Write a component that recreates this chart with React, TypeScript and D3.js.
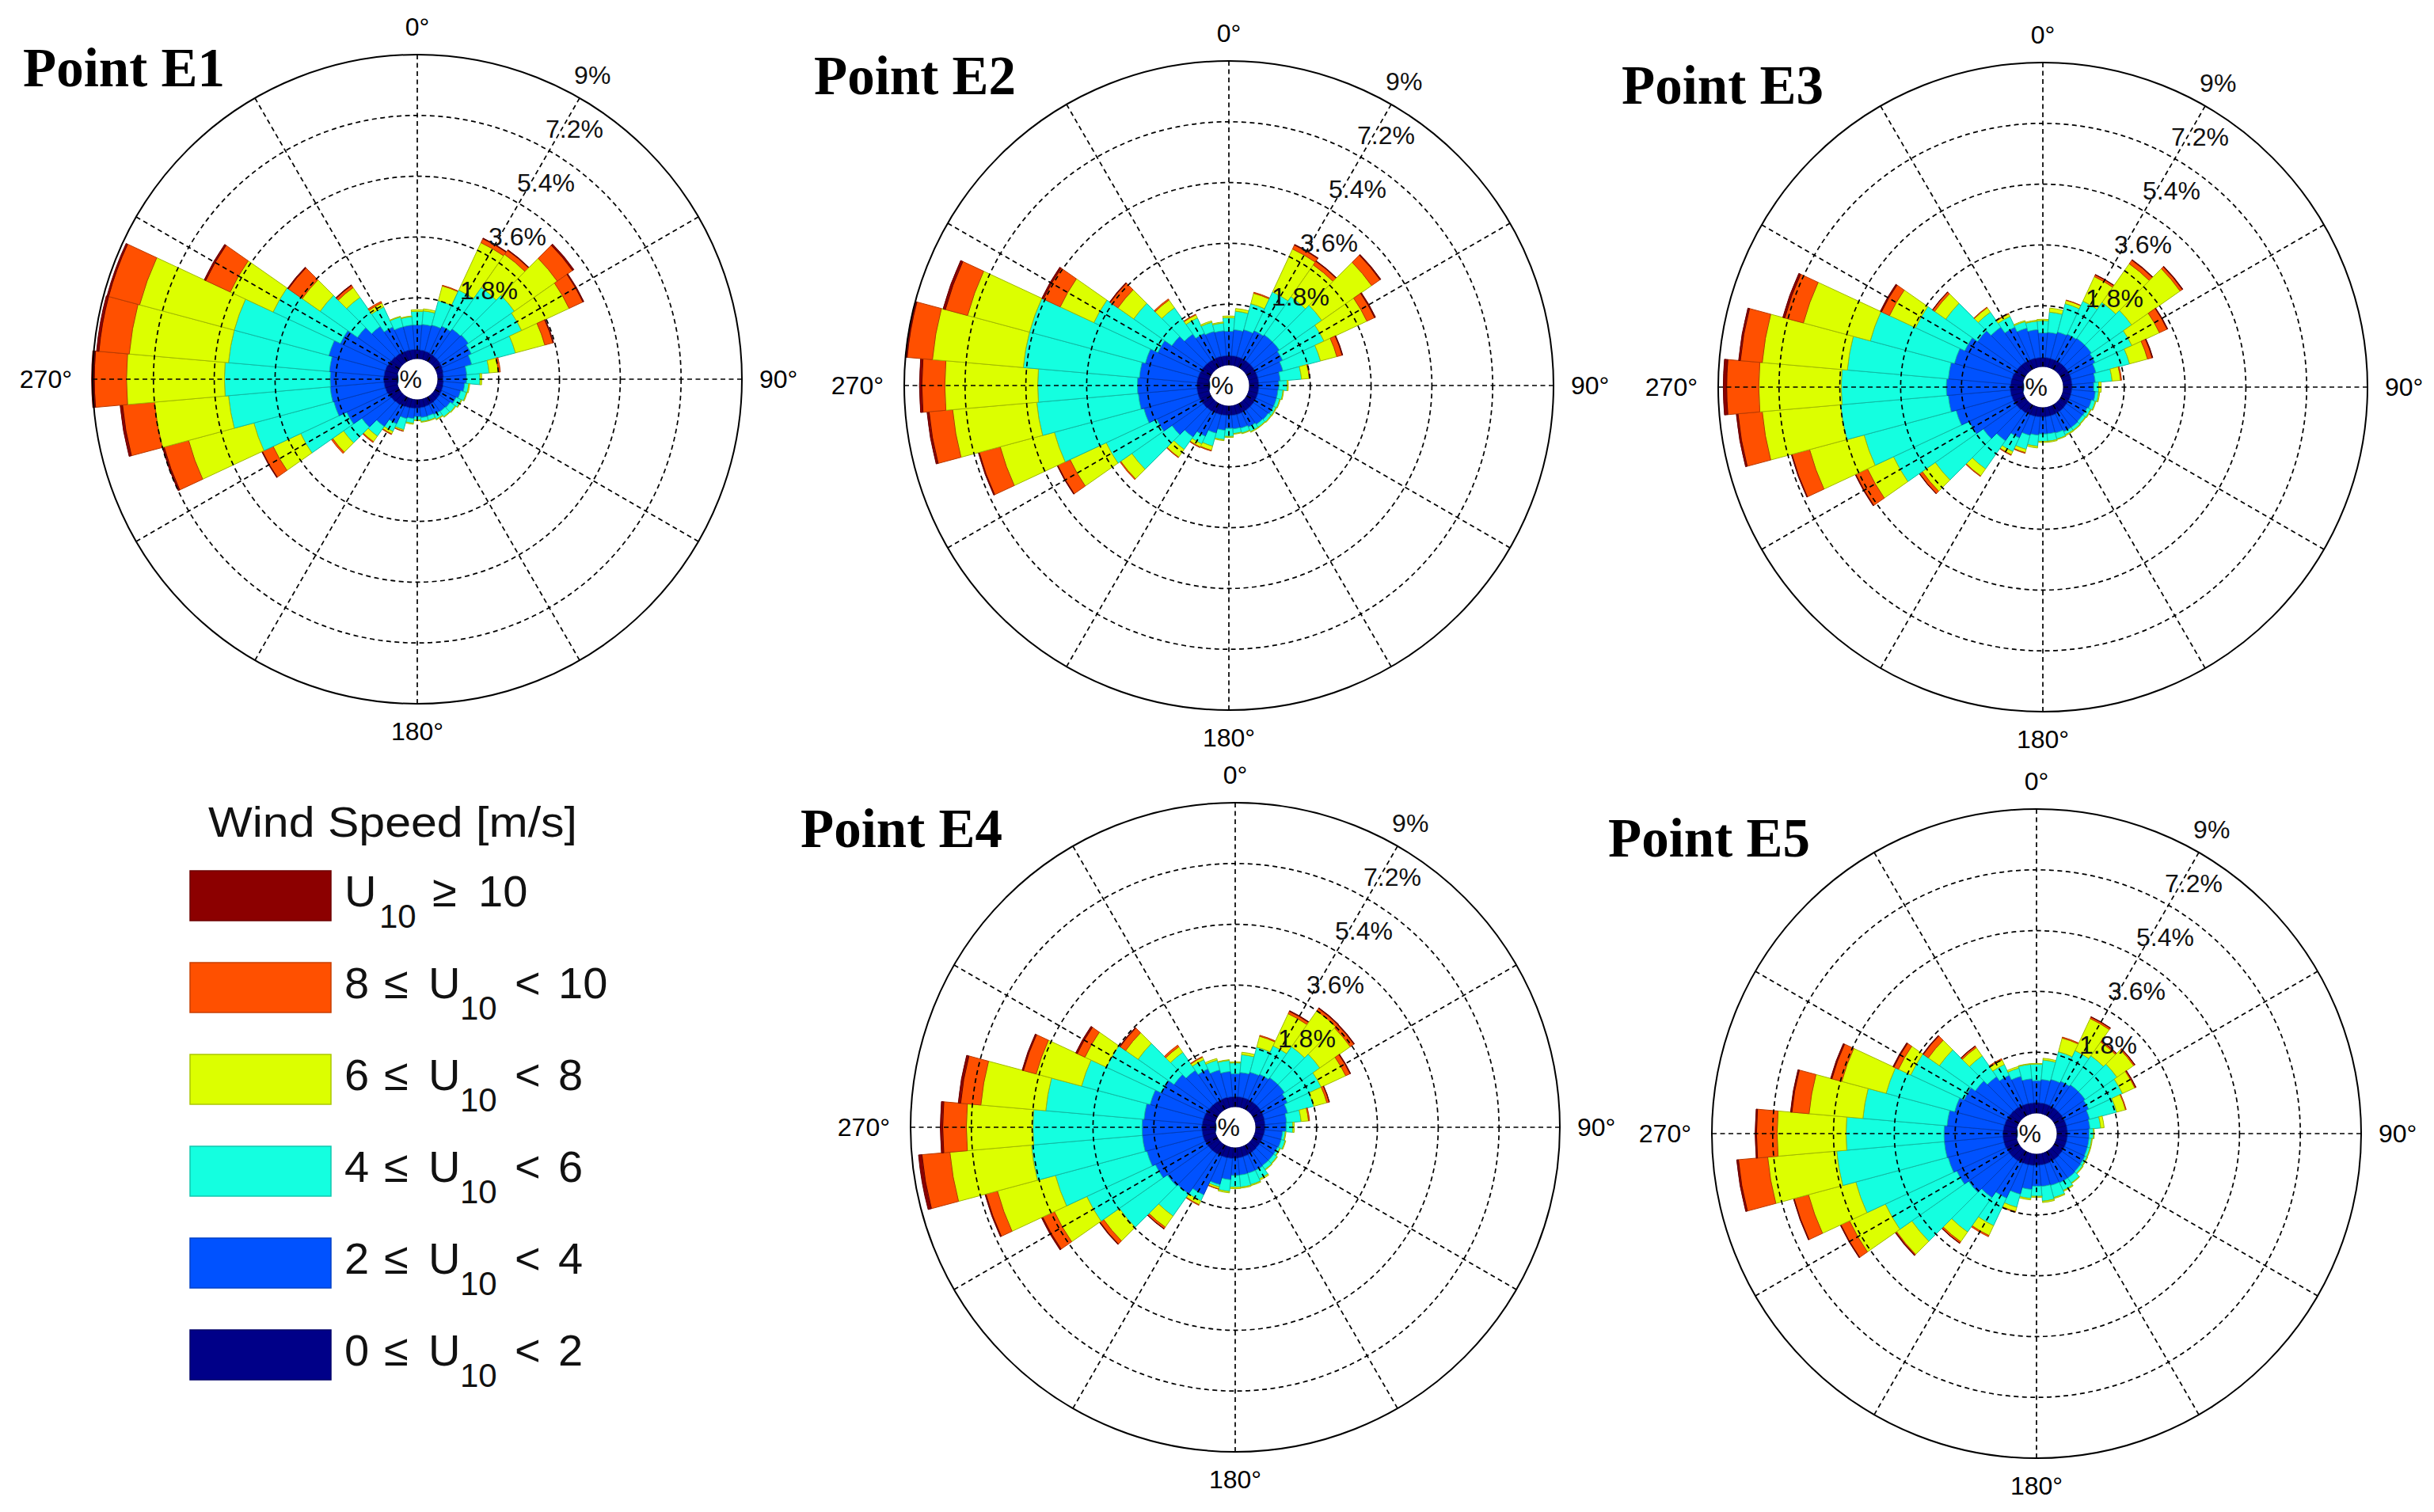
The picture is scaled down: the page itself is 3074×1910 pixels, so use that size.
import React from "react";
import * as d3 from "d3";

// cumulative frequency (%) per direction sector, at the upper edge of each speed class:
// [<2, <4, <6, <8, <10, all]
const directions = d3.range(0, 360, 10);

const e1Cum = [
  [0.27, 1.0, 1.4, 1.45, 1.45, 1.45],
  [0.26, 1.02, 1.42, 1.48, 1.48, 1.48],
  [0.25, 1.05, 1.8, 2.25, 2.27, 2.27],
  [0.24, 1.12, 2.3, 3.85, 3.98, 4.0],
  [0.23, 1.2, 2.7, 3.9, 4.05, 4.07],
  [0.22, 1.24, 2.9, 4.45, 5.0, 5.05],
  [0.21, 1.16, 2.8, 4.35, 4.8, 4.83],
  [0.19, 1.06, 2.4, 3.3, 3.55, 3.57],
  [0.17, 0.86, 1.53, 1.8, 1.86, 1.86],
  [0.16, 0.85, 1.25, 1.3, 1.3, 1.3],
  [0.17, 0.8, 0.92, 0.95, 0.95, 0.95],
  [0.18, 0.72, 0.9, 0.92, 0.92, 0.92],
  [0.19, 0.66, 0.83, 0.85, 0.85, 0.85],
  [0.2, 0.58, 0.77, 0.79, 0.79, 0.79],
  [0.21, 0.56, 0.75, 0.77, 0.77, 0.77],
  [0.22, 0.55, 0.7, 0.72, 0.72, 0.72],
  [0.23, 0.52, 0.65, 0.67, 0.67, 0.67],
  [0.24, 0.53, 0.65, 0.67, 0.67, 0.67],
  [0.25, 0.5, 0.6, 0.62, 0.62, 0.62],
  [0.26, 0.56, 0.7, 0.73, 0.73, 0.73],
  [0.27, 0.6, 0.94, 0.98, 0.99, 0.99],
  [0.29, 0.85, 1.1, 1.18, 1.2, 1.2],
  [0.31, 1.1, 1.45, 1.65, 1.68, 1.68],
  [0.33, 1.4, 2.06, 2.45, 2.5, 2.5],
  [0.35, 1.7, 3.2, 4.1, 4.45, 4.47],
  [0.37, 1.95, 4.4, 6.4, 7.15, 7.2],
  [0.38, 1.98, 5.0, 7.2, 8.15, 8.22],
  [0.39, 1.97, 5.1, 8.0, 8.95, 9.03],
  [0.38, 2.0, 5.0, 7.95, 8.85, 8.92],
  [0.37, 2.1, 5.0, 7.9, 8.85, 8.9],
  [0.35, 1.9, 4.1, 5.5, 6.3, 6.35],
  [0.33, 1.55, 2.9, 3.55, 4.05, 4.08],
  [0.31, 1.3, 2.35, 2.7, 2.78, 2.8],
  [0.3, 1.1, 1.75, 1.88, 1.93, 1.93],
  [0.29, 1.0, 1.3, 1.32, 1.32, 1.32],
  [0.28, 1.0, 1.25, 1.27, 1.27, 1.27],
];

const e2Cum = [
  [0.28, 1.0, 1.4, 1.45, 1.45, 1.45],
  [0.28, 1.05, 1.6, 1.68, 1.68, 1.68],
  [0.28, 1.1, 1.9, 2.22, 2.25, 2.25],
  [0.28, 1.18, 2.45, 3.85, 3.98, 4.0],
  [0.28, 1.22, 2.6, 3.75, 3.88, 3.9],
  [0.28, 1.22, 2.75, 4.55, 4.85, 4.88],
  [0.28, 1.15, 2.5, 3.9, 4.15, 4.18],
  [0.28, 1.05, 2.2, 2.7, 2.86, 2.88],
  [0.28, 0.92, 1.55, 1.78, 1.8, 1.8],
  [0.28, 0.87, 1.12, 1.15, 1.15, 1.15],
  [0.28, 0.85, 1.0, 1.02, 1.02, 1.02],
  [0.28, 0.85, 0.95, 0.97, 0.97, 0.97],
  [0.28, 0.85, 0.93, 0.95, 0.95, 0.95],
  [0.28, 0.82, 0.92, 0.94, 0.94, 0.94],
  [0.28, 0.8, 0.9, 0.92, 0.92, 0.92],
  [0.28, 0.75, 0.9, 0.92, 0.92, 0.92],
  [0.28, 0.7, 0.85, 0.87, 0.87, 0.87],
  [0.28, 0.68, 0.82, 0.84, 0.84, 0.84],
  [0.28, 0.66, 0.9, 0.93, 0.93, 0.93],
  [0.28, 0.72, 1.0, 1.03, 1.03, 1.03],
  [0.29, 0.85, 1.25, 1.38, 1.4, 1.4],
  [0.3, 1.05, 1.3, 1.4, 1.42, 1.42],
  [0.31, 1.25, 1.7, 1.98, 2.0, 2.0],
  [0.32, 1.45, 2.9, 3.3, 3.33, 3.33],
  [0.33, 1.75, 3.4, 4.58, 4.98, 5.0],
  [0.34, 2.0, 4.74, 6.4, 7.04, 7.07],
  [0.34, 2.08, 5.1, 7.6, 8.3, 8.36],
  [0.34, 2.1, 5.05, 7.8, 8.48, 8.55],
  [0.34, 2.05, 5.5, 8.2, 8.95, 9.0],
  [0.33, 1.95, 5.5, 7.4, 8.08, 8.15],
  [0.32, 1.71, 3.8, 4.9, 5.45, 5.5],
  [0.31, 1.45, 2.83, 3.4, 3.68, 3.7],
  [0.3, 1.25, 2.2, 2.48, 2.52, 2.52],
  [0.29, 1.1, 1.6, 1.7, 1.72, 1.72],
  [0.29, 1.05, 1.33, 1.37, 1.37, 1.37],
  [0.28, 1.02, 1.25, 1.28, 1.28, 1.28],
];

const e3Cum = [
  [0.27, 1.0, 1.36, 1.4, 1.4, 1.4],
  [0.27, 1.02, 1.62, 1.74, 1.74, 1.74],
  [0.27, 1.08, 1.95, 2.05, 2.06, 2.06],
  [0.27, 1.12, 2.2, 3.0, 3.06, 3.07],
  [0.27, 1.15, 2.45, 3.85, 3.98, 4.0],
  [0.27, 1.15, 2.6, 4.35, 4.43, 4.45],
  [0.27, 1.1, 2.3, 3.2, 3.45, 3.47],
  [0.27, 1.02, 2.05, 2.6, 2.74, 2.76],
  [0.26, 0.95, 1.45, 1.7, 1.73, 1.73],
  [0.26, 0.9, 1.05, 1.12, 1.12, 1.12],
  [0.25, 0.95, 1.05, 1.08, 1.08, 1.08],
  [0.25, 0.88, 1.0, 1.02, 1.02, 1.02],
  [0.25, 0.84, 0.95, 0.97, 0.97, 0.97],
  [0.25, 0.83, 0.93, 0.95, 0.95, 0.95],
  [0.26, 0.85, 0.95, 0.97, 0.97, 0.97],
  [0.26, 0.85, 0.95, 0.98, 0.98, 0.98],
  [0.27, 0.8, 0.98, 1.0, 1.0, 1.0],
  [0.27, 0.78, 1.0, 1.03, 1.03, 1.03],
  [0.28, 0.78, 1.0, 1.03, 1.03, 1.03],
  [0.28, 0.82, 1.15, 1.2, 1.2, 1.2],
  [0.29, 0.87, 1.3, 1.4, 1.42, 1.42],
  [0.3, 1.05, 1.5, 1.6, 1.62, 1.62],
  [0.31, 1.33, 2.35, 2.6, 2.62, 2.62],
  [0.33, 1.55, 3.28, 3.75, 3.85, 3.86],
  [0.34, 1.8, 4.27, 5.12, 5.5, 5.52],
  [0.35, 2.05, 4.87, 6.54, 7.08, 7.1],
  [0.36, 2.2, 5.4, 7.73, 8.45, 8.5],
  [0.36, 2.25, 5.36, 7.8, 8.75, 8.85],
  [0.35, 2.2, 5.2, 7.73, 8.38, 8.43],
  [0.34, 2.1, 4.68, 6.73, 7.3, 7.36],
  [0.32, 1.94, 3.55, 4.4, 4.66, 4.7],
  [0.31, 1.75, 2.9, 3.3, 3.37, 3.38],
  [0.3, 1.56, 2.1, 2.26, 2.28, 2.28],
  [0.29, 1.35, 1.7, 1.78, 1.8, 1.8],
  [0.28, 1.2, 1.4, 1.43, 1.43, 1.43],
  [0.27, 1.1, 1.35, 1.38, 1.38, 1.38],
];

const e4Cum = [
  [0.3, 0.98, 1.3, 1.33, 1.33, 1.33],
  [0.3, 1.02, 1.55, 1.62, 1.62, 1.62],
  [0.3, 1.08, 1.85, 2.18, 2.21, 2.21],
  [0.3, 1.12, 2.05, 3.1, 3.18, 3.2],
  [0.3, 1.18, 2.3, 3.6, 3.69, 3.71],
  [0.3, 1.18, 2.45, 3.55, 3.68, 3.7],
  [0.3, 1.1, 2.2, 3.0, 3.14, 3.16],
  [0.29, 1.0, 1.8, 2.2, 2.27, 2.28],
  [0.28, 0.92, 1.35, 1.57, 1.6, 1.6],
  [0.28, 0.9, 1.1, 1.14, 1.14, 1.14],
  [0.27, 0.8, 0.88, 0.9, 0.9, 0.9],
  [0.26, 0.8, 0.92, 0.94, 0.94, 0.94],
  [0.26, 0.78, 0.85, 0.87, 0.87, 0.87],
  [0.26, 0.78, 0.9, 0.92, 0.92, 0.92],
  [0.27, 0.78, 0.92, 0.94, 0.94, 0.94],
  [0.28, 0.8, 1.08, 1.12, 1.12, 1.12],
  [0.29, 0.8, 1.15, 1.18, 1.18, 1.18],
  [0.3, 0.81, 1.17, 1.2, 1.2, 1.2],
  [0.31, 0.82, 1.17, 1.21, 1.21, 1.21],
  [0.32, 0.95, 1.3, 1.34, 1.34, 1.34],
  [0.33, 1.15, 1.22, 1.28, 1.29, 1.29],
  [0.34, 1.6, 1.8, 1.92, 1.94, 1.94],
  [0.35, 1.8, 2.6, 3.0, 3.06, 3.07],
  [0.36, 1.85, 3.58, 4.15, 4.28, 4.3],
  [0.37, 2.0, 4.24, 5.3, 5.68, 5.72],
  [0.38, 2.1, 4.9, 6.68, 7.03, 7.06],
  [0.38, 2.15, 5.45, 7.87, 8.7, 8.8],
  [0.38, 2.15, 5.38, 7.35, 8.05, 8.12],
  [0.37, 2.1, 5.02, 6.95, 7.55, 7.62],
  [0.36, 2.0, 4.1, 5.49, 5.88, 5.92],
  [0.35, 1.8, 3.6, 4.3, 4.55, 4.6],
  [0.33, 1.6, 2.9, 3.35, 3.55, 3.57],
  [0.32, 1.45, 2.1, 2.3, 2.36, 2.36],
  [0.31, 1.3, 1.6, 1.68, 1.7, 1.7],
  [0.31, 1.15, 1.45, 1.5, 1.5, 1.5],
  [0.3, 1.05, 1.38, 1.4, 1.4, 1.4],
];

const e5Cum = [
  [0.31, 0.96, 1.45, 1.47, 1.47, 1.47],
  [0.31, 1.0, 1.58, 1.63, 1.63, 1.63],
  [0.31, 1.05, 1.9, 2.32, 2.35, 2.35],
  [0.31, 1.1, 2.1, 3.15, 3.2, 3.21],
  [0.31, 1.15, 2.2, 2.7, 2.74, 2.75],
  [0.31, 1.15, 2.3, 2.9, 2.94, 2.95],
  [0.31, 1.1, 2.2, 2.6, 2.63, 2.64],
  [0.31, 1.02, 1.85, 2.12, 2.14, 2.14],
  [0.31, 0.98, 1.3, 1.4, 1.4, 1.4],
  [0.31, 0.95, 1.08, 1.1, 1.1, 1.1],
  [0.31, 0.95, 1.03, 1.05, 1.05, 1.05],
  [0.31, 0.95, 1.03, 1.05, 1.05, 1.05],
  [0.31, 0.97, 1.04, 1.06, 1.06, 1.06],
  [0.31, 0.98, 1.06, 1.08, 1.08, 1.08],
  [0.32, 1.0, 1.18, 1.2, 1.2, 1.2],
  [0.32, 1.0, 1.25, 1.28, 1.28, 1.28],
  [0.33, 0.98, 1.35, 1.38, 1.38, 1.38],
  [0.33, 0.96, 1.4, 1.44, 1.44, 1.44],
  [0.33, 0.95, 1.25, 1.28, 1.28, 1.28],
  [0.34, 1.05, 1.32, 1.36, 1.36, 1.36],
  [0.35, 1.25, 1.65, 1.78, 1.8, 1.8],
  [0.36, 1.5, 2.4, 2.72, 2.76, 2.76],
  [0.37, 1.7, 2.95, 3.3, 3.35, 3.36],
  [0.38, 1.85, 3.9, 4.45, 4.48, 4.5],
  [0.38, 2.0, 4.33, 5.5, 5.78, 5.8],
  [0.39, 2.1, 4.93, 6.38, 6.82, 6.84],
  [0.39, 2.13, 5.33, 7.38, 8.25, 8.3],
  [0.39, 2.13, 5.03, 7.07, 7.68, 7.72],
  [0.38, 2.05, 4.55, 6.15, 6.66, 6.7],
  [0.37, 1.9, 4.0, 5.36, 5.66, 5.7],
  [0.36, 1.76, 3.5, 3.9, 4.05, 4.08],
  [0.35, 1.6, 2.9, 3.3, 3.48, 3.5],
  [0.34, 1.45, 2.2, 2.5, 2.55, 2.56],
  [0.33, 1.3, 1.65, 1.8, 1.84, 1.84],
  [0.32, 1.15, 1.4, 1.45, 1.45, 1.45],
  [0.31, 1.02, 1.45, 1.47, 1.47, 1.47],
];

const pointNames = ["Point E1", "Point E2", "Point E3", "Point E4", "Point E5"];
const pointData = [e1Cum, e2Cum, e3Cum, e4Cum, e5Cum];

const ringTicks = [1.8, 3.6, 5.4, 7.2, 9];
const ringLabels = ["1.8%", "3.6%", "5.4%", "7.2%", "9%"];

// speed classes, slowest first
const classColors = ["#000088", "#0052ff", "#14ffe0", "#dcff00", "#ff5000", "#8c0000"];
const legendTitle = "Wind Speed [m/s]";
// legend rows top to bottom
const legendLo = ["", "8", "6", "4", "2", "0"];
const legendHi = ["10", "10", "8", "6", "4", "2"];
const legendColor = ["#8c0000", "#ff5000", "#dcff00", "#14ffe0", "#0052ff", "#000088"];

const layout = [
  { cx: 527, cy: 479, tx: 29, ty: 109 },
  { cx: 1552, cy: 487, tx: 1028, ty: 119 },
  { cx: 2580, cy: 489, tx: 2048, ty: 131 },
  { cx: 1560, cy: 1424, tx: 1011, ty: 1070 },
  { cx: 2572, cy: 1432, tx: 2031, ty: 1082 },
];

const R = 410;
const R0 = 26;
const FONT = "'Liberation Sans', Arial, Helvetica, sans-serif";
const SERIF = "'Liberation Serif', 'Times New Roman', serif";

function WindRose({ rows, name, cx, cy, tx, ty }) {
  const r = d3.scaleLinear().domain([0, 9]).range([R0, R]);
  const arc = d3.arc();
  const half = (5 * Math.PI) / 180;
  const rad = (d: number) => (d * Math.PI) / 180;
  const lblAng = rad(28);

  const wedges = [];
  rows.forEach((cum, i) => {
    const a = rad(directions[i]);
    cum.forEach((v, k) => {
      const lo = k === 0 ? 0 : cum[k - 1];
      if (v - lo < 0.004) return;
      wedges.push(
        <path
          key={`${i}-${k}`}
          d={arc({ innerRadius: r(lo), outerRadius: r(v), startAngle: a - half, endAngle: a + half })}
          fill={classColors[k]}
          stroke={d3.color(classColors[k]).darker(0.9).formatHex()}
          strokeWidth={1}
        />
      );
    });
  });

  return (
    <g>
      <g transform={`translate(${cx},${cy})`}>
        <text x={6} y={11} textAnchor="end" fontFamily={FONT} fontSize={32} fill="#111">0%</text>
        {wedges}
        {ringTicks.slice(0, 4).map((t) => (
          <circle key={t} r={r(t)} fill="none" stroke="#000" strokeWidth={1.7} strokeDasharray="6 4.5" />
        ))}
        {d3.range(0, 360, 30).map((d) => (
          <line
            key={d}
            x1={r(0) * Math.sin(rad(d))}
            y1={-r(0) * Math.cos(rad(d))}
            x2={R * Math.sin(rad(d))}
            y2={-R * Math.cos(rad(d))}
            stroke="#000"
            strokeWidth={1.7}
            strokeDasharray="6 4.5"
          />
        ))}
        <circle r={R} fill="none" stroke="#000" strokeWidth={2} />
        {ringTicks.map((t, i) => (
          <text
            key={t}
            x={(r(t) + 12) * Math.sin(lblAng)}
            y={-(r(t) + 12) * Math.cos(lblAng)}
            fontFamily={FONT}
            fontSize={32}
            fill="#111"
          >
            {ringLabels[i]}
          </text>
        ))}
        <text x={0} y={-R - 24} textAnchor="middle" fontFamily={FONT} fontSize={32}>0°</text>
        <text x={0} y={R + 46} textAnchor="middle" fontFamily={FONT} fontSize={32}>180°</text>
        <text x={R + 22} y={11} fontFamily={FONT} fontSize={32}>90°</text>
        <text x={-R - 26} y={11} textAnchor="end" fontFamily={FONT} fontSize={32}>270°</text>
      </g>
      <text x={tx} y={ty} fontFamily={SERIF} fontWeight="bold" fontSize={69}>{name}</text>
    </g>
  );
}

function Legend() {
  const top = 1100;
  const step = 116;
  return (
    <g fontFamily={FONT} fill="#111">
      <text x={263} y={1057} fontSize={54} textLength={466} lengthAdjust="spacingAndGlyphs">
        {legendTitle}
      </text>
      {legendColor.map((c, i) => {
        const y = top + i * step;
        const base = y + 45;
        return (
          <g key={i}>
            <rect x={240} y={y} width={178} height={63} fill={c}
              stroke={d3.color(c).darker(0.7).formatHex()} strokeWidth={1.5} />
            {i === 0 ? (
              <text fontSize={56}>
                <tspan x={435} y={base}>U</tspan>
                <tspan x={479} y={base + 27} fontSize={42}>10</tspan>
                <tspan x={546} y={base}>≥</tspan>
                <tspan x={604} y={base}>{legendHi[i]}</tspan>
              </text>
            ) : (
              <text fontSize={56}>
                <tspan x={435} y={base}>{legendLo[i]}</tspan>
                <tspan x={485} y={base}>≤</tspan>
                <tspan x={541} y={base}>U</tspan>
                <tspan x={581} y={base + 27} fontSize={42}>10</tspan>
                <tspan x={650} y={base}>&lt;</tspan>
                <tspan x={705} y={base}>{legendHi[i]}</tspan>
              </text>
            )}
          </g>
        );
      })}
    </g>
  );
}

export default function App() {
  return (
    <svg
      width={3074}
      height={1910}
      style={{ position: "absolute", left: 0, top: 0, background: "#fff" }}
    >
      <rect width={3074} height={1910} fill="#fff" />
      {pointData.map((rows, i) => (
        <WindRose key={i} rows={rows} name={pointNames[i]} {...layout[i]} />
      ))}
      <Legend />
    </svg>
  );
}
